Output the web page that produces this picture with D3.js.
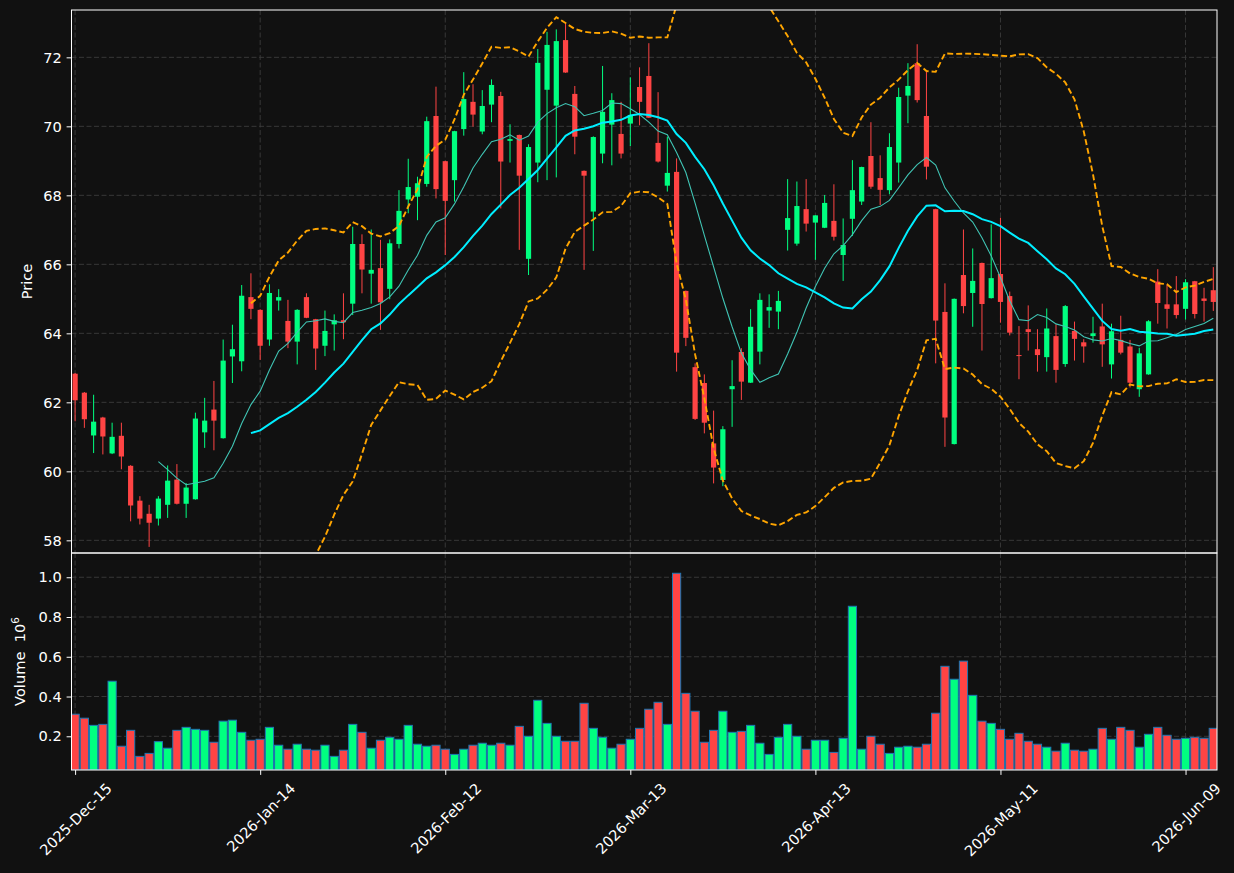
<!DOCTYPE html>
<html>
<head>
<meta charset="utf-8">
<script src="https://cdn.jsdelivr.net/npm/d3@7"></script>
<style>
  html, body { margin: 0; padding: 0; background: #111111; }
  svg { display: block; }
  text { font-family: "DejaVu Sans", sans-serif; }
</style>
</head>
<body>
<svg id="chart" width="1234" height="873"></svg>
<script>
// ---------------- data ----------------
const opens = [62.83,62.28,61.04,61.56,60.52,61.03,60.16,59.15,58.77,58.63,
  59.03,59.76,59.06,59.19,61.13,61.79,60.96,63.33,63.19,65.05,
  64.68,63.82,64.95,64.36,63.76,65.05,64.41,63.64,64.26,64.38,
  64.86,66.59,65.73,65.89,65.29,66.59,67.88,67.96,68.33,70.30,
  68.99,68.44,69.92,70.71,69.85,70.63,70.88,69.58,69.75,66.16,
  68.95,71.06,70.60,72.50,70.94,68.71,67.53,69.21,70.05,69.78,
  70.08,71.14,71.46,69.52,68.28,68.68,65.23,63.02,62.56,60.81,
  59.75,62.38,63.46,62.57,63.47,64.66,64.63,67.00,66.60,67.60,
  67.21,67.06,67.26,66.27,67.32,67.82,69.14,68.50,68.15,68.95,
  70.89,71.83,70.30,67.60,64.62,60.79,65.69,65.17,66.04,65.02,
  65.72,65.08,63.37,64.12,63.54,63.31,63.92,63.11,64.07,63.74,
  63.92,64.20,63.10,63.81,63.62,62.38,62.81,65.50,64.84,64.84,
  64.71,65.51,65.01,65.25];
const highs = [62.85,62.30,62.22,61.58,61.41,61.41,60.18,59.28,59.03,59.28,
  60.17,60.21,59.66,61.70,62.13,62.62,63.82,64.25,65.40,65.74,
  64.70,65.42,65.28,64.97,64.70,65.16,64.42,64.66,64.55,65.16,
  67.09,66.87,67.01,66.71,66.72,68.15,69.06,68.54,70.28,71.15,
  69.00,69.87,71.57,71.22,71.05,71.36,71.00,70.06,69.76,69.48,
  72.24,72.74,72.81,72.99,71.17,68.72,69.71,71.75,70.96,70.71,
  71.42,71.71,72.41,70.99,69.70,69.07,65.24,63.13,62.81,61.76,
  61.31,63.22,63.57,64.70,65.16,65.13,65.23,68.47,68.40,68.47,
  67.42,68.01,68.32,67.33,69.02,68.83,70.12,69.16,69.80,71.12,
  71.83,72.38,71.63,67.61,65.45,65.01,67.01,66.46,66.05,67.16,
  67.35,65.21,64.21,64.81,64.12,64.72,64.26,64.82,64.34,63.83,
  64.48,64.86,64.28,64.51,63.81,63.58,64.38,65.86,65.42,65.66,
  65.57,65.52,65.32,65.92];
const lows = [61.45,61.26,60.53,60.49,60.50,60.06,58.55,58.46,57.81,58.43,
  58.65,59.04,58.65,59.18,60.68,60.61,60.95,62.56,62.90,64.41,
  63.23,63.64,64.66,63.57,63.10,64.44,62.94,63.34,63.50,63.83,
  64.53,65.16,64.86,64.10,64.99,66.46,67.48,67.28,68.25,67.91,
  66.27,67.82,69.73,69.99,69.77,70.12,67.62,68.95,66.42,65.69,
  68.38,68.44,68.52,71.55,69.19,65.84,66.39,68.93,68.87,69.07,
  69.43,70.03,70.24,68.95,68.11,62.89,63.63,61.49,61.10,59.65,
  59.57,61.29,62.07,62.56,63.10,64.16,64.12,66.40,66.54,66.95,
  66.13,67.05,66.69,65.52,66.82,67.72,68.19,67.72,68.03,68.37,
  70.09,70.69,68.46,63.13,60.71,60.78,64.58,64.19,63.50,65.01,
  64.31,63.94,62.67,63.50,62.89,62.89,62.57,63.03,63.21,63.15,
  63.73,63.03,62.69,63.39,62.43,62.16,62.80,64.28,64.14,64.43,
  64.40,64.43,64.34,64.65];
const closes = [62.06,61.51,61.44,61.01,61.00,60.43,59.01,58.63,58.51,59.21,
  59.73,59.06,59.53,61.53,61.47,61.47,63.21,63.54,65.09,64.71,
  63.64,65.17,65.05,63.76,64.68,64.45,63.56,64.07,64.38,64.32,
  66.59,65.85,65.84,64.90,66.61,67.55,68.24,68.35,70.15,68.18,
  67.84,69.86,70.79,70.34,70.59,71.20,68.98,69.63,68.57,69.40,
  71.84,72.36,72.47,71.56,69.70,68.57,69.69,70.42,70.76,69.21,
  70.33,70.71,70.25,68.98,68.65,63.44,63.87,61.52,61.41,60.11,
  61.22,62.47,62.60,64.19,64.97,64.76,64.94,67.34,67.69,67.18,
  67.42,67.78,66.80,66.56,68.15,68.82,68.25,68.16,69.40,70.85,
  71.17,70.76,68.83,64.37,61.56,65.00,64.79,65.52,64.85,65.60,
  64.91,64.02,63.35,64.04,63.37,64.14,62.94,64.79,63.84,63.62,
  64.00,63.68,64.06,63.44,62.57,63.42,64.35,64.88,64.71,64.53,
  65.48,64.56,64.94,64.91];
// volume in millions
const volumes = [0.311,0.291,0.255,0.260,0.477,0.150,0.230,0.099,0.114,0.173,
  0.140,0.230,0.245,0.235,0.230,0.170,0.276,0.281,0.220,0.180,
  0.185,0.245,0.155,0.135,0.160,0.135,0.130,0.155,0.099,0.130,
  0.260,0.220,0.140,0.180,0.195,0.185,0.255,0.160,0.150,0.155,
  0.135,0.109,0.135,0.155,0.165,0.155,0.165,0.155,0.250,0.200,
  0.381,0.265,0.200,0.175,0.175,0.366,0.240,0.195,0.140,0.160,
  0.185,0.240,0.336,0.371,0.260,1.020,0.416,0.326,0.170,0.230,
  0.326,0.220,0.225,0.255,0.165,0.109,0.195,0.260,0.200,0.135,
  0.180,0.180,0.119,0.190,0.854,0.135,0.200,0.160,0.114,0.145,
  0.150,0.145,0.160,0.316,0.552,0.487,0.578,0.406,0.276,0.265,
  0.235,0.185,0.215,0.175,0.160,0.145,0.125,0.165,0.130,0.125,
  0.135,0.240,0.185,0.245,0.230,0.145,0.210,0.245,0.205,0.185,
  0.190,0.195,0.190,0.240];
const tickIndex = [0, 20, 40, 60, 80, 100, 120];
const tickLabels = ["2025-Dec-15","2026-Jan-14","2026-Feb-12","2026-Mar-13","2026-Apr-13","2026-May-11","2026-Jun-09"];
const priceTicks = [58, 60, 62, 64, 66, 68, 70, 72];
const volumeTicks = [0.2, 0.4, 0.6, 0.8, 1.0];
const maPeriods = [10, 20];
const bollPeriod = 20, bollK = 2;

// ---------------- styling ----------------
const UP = "#00ff80", DOWN = "#ff4444", EDGE = "#1f77b4";
const TEXT = "#ffffff", GRID = "#3c3c3c";
const FS = 14.6;

const svg = d3.select("#chart");
svg.append("rect").attr("width", 1234).attr("height", 873).attr("fill", "#111111");

const L = 71.5, R = 1217, PT = 10, PB = 553, VT = 553, VB = 770;
const n = closes.length;
const x = d3.scaleLinear().domain([-0.39, 123.4]).range([L, R]);
const yP = d3.scaleLinear().domain([57.633, 73.372]).range([PB, PT]);
const yV = d3.scaleLinear().domain([0.0304, 1.122]).range([VB, VT]);

const defs = svg.append("defs");
defs.append("clipPath").attr("id", "clipP").append("rect")
  .attr("x", L).attr("y", PT).attr("width", R - L).attr("height", PB - PT);
defs.append("clipPath").attr("id", "clipV").append("rect")
  .attr("x", L).attr("y", VT).attr("width", R - L).attr("height", VB - VT);

// grid
function grid(yScale, ticks, top, bottom) {
  const g = svg.append("g");
  g.selectAll(".h").data(ticks).join("line")
    .attr("x1", L).attr("x2", R)
    .attr("y1", d => yScale(d)).attr("y2", d => yScale(d))
    .attr("stroke", GRID).attr("stroke-width", 0.9).attr("stroke-dasharray", "5,2.5");
  g.selectAll(".v").data(tickIndex).join("line")
    .attr("x1", d => x(d)).attr("x2", d => x(d))
    .attr("y1", top).attr("y2", bottom)
    .attr("stroke", GRID).attr("stroke-width", 0.9).attr("stroke-dasharray", "5,2.5");
}
grid(yP, priceTicks, PT, PB);
grid(yV, volumeTicks, VT, VB);

const idx = d3.range(n);
const isUp = i => closes[i] >= opens[i];

// candles
const cg = svg.append("g").attr("clip-path", "url(#clipP)");
cg.selectAll(".wick").data(idx).join("line")
  .attr("x1", i => x(i)).attr("x2", i => x(i))
  .attr("y1", i => yP(highs[i])).attr("y2", i => yP(lows[i]))
  .attr("stroke", i => isUp(i) ? UP : DOWN).attr("stroke-width", 1);
const bw = 5.2;
cg.selectAll(".body").data(idx).join("rect")
  .attr("x", i => x(i) - bw / 2).attr("width", bw)
  .attr("y", i => yP(Math.max(opens[i], closes[i])))
  .attr("height", i => Math.max(1, Math.abs(yP(opens[i]) - yP(closes[i]))))
  .attr("fill", i => isUp(i) ? UP : DOWN);

// moving averages & bollinger
function sma(p) {
  return idx.map(i => i < p - 1 ? null : d3.mean(closes.slice(i - p + 1, i + 1)));
}
function bands(p, k) {
  const mid = sma(p);
  return idx.map(i => {
    if (mid[i] == null) return null;
    const w = closes.slice(i - p + 1, i + 1);
    const m = mid[i];
    const sd = Math.sqrt(d3.mean(w.map(v => (v - m) * (v - m))));
    return { up: m + k * sd, lo: m - k * sd };
  });
}
const ma10 = sma(maPeriods[0]);
const ma20 = sma(maPeriods[1]);
const bb = bands(bollPeriod, bollK);
const line = d3.line().defined(d => d.v != null).x(d => x(d.i)).y(d => yP(d.v));
const lg = svg.append("g").attr("clip-path", "url(#clipP)");
lg.append("path").attr("d", line(idx.map(i => ({ i, v: bb[i] ? bb[i].up : null }))))
  .attr("fill", "none").attr("stroke", "#ffa500").attr("stroke-width", 1.9).attr("stroke-dasharray", "6,3");
lg.append("path").attr("d", line(idx.map(i => ({ i, v: bb[i] ? bb[i].lo : null }))))
  .attr("fill", "none").attr("stroke", "#ffa500").attr("stroke-width", 1.9).attr("stroke-dasharray", "6,3");
lg.append("path").attr("d", line(idx.map(i => ({ i, v: ma10[i] }))))
  .attr("fill", "none").attr("stroke", "#40c4b4").attr("stroke-width", 1.1);
lg.append("path").attr("d", line(idx.map(i => ({ i, v: ma20[i] }))))
  .attr("fill", "none").attr("stroke", "#00eeff").attr("stroke-width", 2);

// volume
const vg = svg.append("g").attr("clip-path", "url(#clipV)");
const vw = 8.2;
vg.selectAll(".vol").data(idx).join("rect")
  .attr("x", i => x(i) - vw / 2).attr("width", vw)
  .attr("y", i => yV(volumes[i])).attr("height", i => VB - yV(volumes[i]))
  .attr("fill", i => isUp(i) ? UP : DOWN)
  .attr("stroke", EDGE).attr("stroke-width", 1);

// spines
[[PT, PB], [VT, VB]].forEach(([t, b]) => {
  svg.append("rect").attr("x", L).attr("y", t).attr("width", R - L).attr("height", b - t)
    .attr("fill", "none").attr("stroke", TEXT).attr("stroke-width", 1);
});

// axes
function styleAxis(g) {
  g.select(".domain").remove();
  g.selectAll(".tick line").attr("stroke", TEXT).attr("stroke-width", 1);
  g.selectAll(".tick text").attr("fill", TEXT).attr("font-size", FS)
    .attr("font-family", "DejaVu Sans, sans-serif");
}
svg.append("g").attr("transform", `translate(${L},0)`)
  .call(d3.axisLeft(yP).tickValues(priceTicks).tickFormat(d3.format("d")).tickSize(4.9).tickPadding(4.9))
  .call(styleAxis);
svg.append("g").attr("transform", `translate(${L},0)`)
  .call(d3.axisLeft(yV).tickValues(volumeTicks).tickFormat(d3.format(".1f")).tickSize(4.9).tickPadding(4.9))
  .call(styleAxis);
const xa = svg.append("g").attr("transform", `translate(0,${VB})`)
  .call(d3.axisBottom(x).tickValues(tickIndex).tickFormat((d, k) => tickLabels[k]).tickSize(4.9).tickPadding(4.9))
  .call(styleAxis);
xa.selectAll(".tick text").each(function () {
  const t = d3.select(this);
  const w = this.getComputedTextLength();
  const h = FS * 1.1;
  const bh = (w + h) * Math.SQRT1_2;
  t.attr("text-anchor", "middle").attr("dy", null).attr("y", null)
    .attr("dominant-baseline", "central")
    .attr("transform", `translate(0,${9.8 + bh / 2}) rotate(-45)`);
});

// axis labels
svg.append("text").attr("transform", `translate(32,${(PT + PB) / 2}) rotate(-90)`)
  .attr("text-anchor", "middle").attr("fill", TEXT).attr("font-size", FS).text("Price");
const vl = svg.append("text").attr("transform", `translate(25,${(VT + VB) / 2}) rotate(-90)`)
  .attr("text-anchor", "middle").attr("fill", TEXT).attr("font-size", FS);
vl.append("tspan").text("Volume\u00a0\u00a010");
vl.append("tspan").attr("font-size", FS * 0.72).attr("dy", -6).text("6");
</script>
</body>
</html>
